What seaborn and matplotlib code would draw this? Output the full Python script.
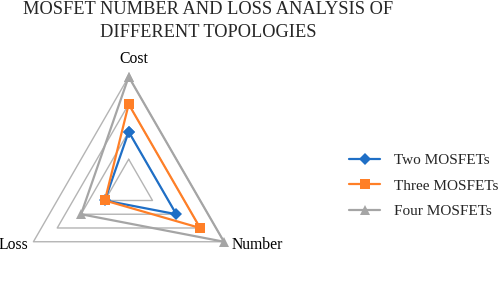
import numpy as np
import pandas as pd
import seaborn as sns
import matplotlib
matplotlib.use("Agg")
import matplotlib.pyplot as plt
from matplotlib.lines import Line2D

# radar axes and the three topologies
categories = ["Cost", "Number", "Loss"]
series_names = ["Two MOSFETs", "Three MOSFETs", "Four MOSFETs"]
two_mosfets = [2, 2, 1]
three_mosfets = [3, 3, 1]
four_mosfets = [4, 4, 2]
grid_levels = [1, 2, 3, 4]

colors = {"Two MOSFETs": "#1F6FC6", "Three MOSFETs": "#FF7F27", "Four MOSFETs": "#A5A5A5"}
markers = {"Two MOSFETs": "D", "Three MOSFETs": "s", "Four MOSFETs": "^"}

sns.set_style("white")
plt.rcParams["font.family"] = ["Liberation Serif", "DejaVu Serif"]

angles = np.linspace(0, 2 * np.pi, len(categories), endpoint=False)
closed_angles = list(angles) + [2 * np.pi]

rows = []
for name, vals in zip(series_names, [two_mosfets, three_mosfets, four_mosfets]):
    closed_vals = list(vals) + [vals[0]]
    for theta, v in zip(closed_angles, closed_vals):
        rows.append({"series": name, "theta": theta, "value": v})
df = pd.DataFrame(rows)

fig = plt.figure(figsize=(4.98, 2.95), dpi=100)
ax = fig.add_axes([0.0375, -0.006, 0.4418, 0.746], projection="polar")
ax.set_theta_zero_location("N")
ax.set_theta_direction(-1)

# triangular gridlines
for level in grid_levels:
    ax.plot(closed_angles, [level] * len(closed_angles), color="#B4B4B4",
            linewidth=1.0, zorder=1, clip_on=False)

sns.lineplot(
    data=df, x="theta", y="value", hue="series", style="series",
    palette=colors, markers=markers, dashes=False, sort=False,
    estimator=None, linewidth=1.6, markersize=6.5, markeredgewidth=0,
    ax=ax, legend=False, clip_on=False, zorder=3,
)

ax.set_ylim(0, max(grid_levels))
ax.grid(False)
ax.spines["polar"].set_visible(False)
ax.set_xticks([])
ax.set_yticks([])
ax.set_xlabel("")
ax.set_ylabel("")
ax.patch.set_alpha(0)

rmax = max(grid_levels)
label_style = {
    "Cost": dict(xytext=(3.6, 10), ha="center", va="baseline"),
    "Number": dict(xytext=(5.8, -5), ha="left", va="baseline"),
    "Loss": dict(xytext=(-3.6, -5), ha="right", va="baseline"),
}
for cat, theta in zip(categories, angles):
    ax.annotate(cat, xy=(theta, rmax), textcoords="offset points",
                fontsize=11.3, color="black", annotation_clip=False,
                **label_style[cat])

fig.text(0.418, 0.995, "MOSFET NUMBER AND LOSS ANALYSIS OF\nDIFFERENT TOPOLOGIES",
         ha="center", va="top", fontsize=13.2, linespacing=1.45)

handles = [
    Line2D([], [], color=colors[n], marker=markers[n], markersize=6.5,
           markeredgewidth=0, linewidth=1.6)
    for n in series_names
]
fig.legend(handles, series_names, loc="center left", bbox_to_anchor=(0.674, 0.37),
           frameon=False, fontsize=11, handlelength=2.0, handletextpad=0.9,
           labelspacing=0.78)

fig.savefig("out.png", dpi=100)
